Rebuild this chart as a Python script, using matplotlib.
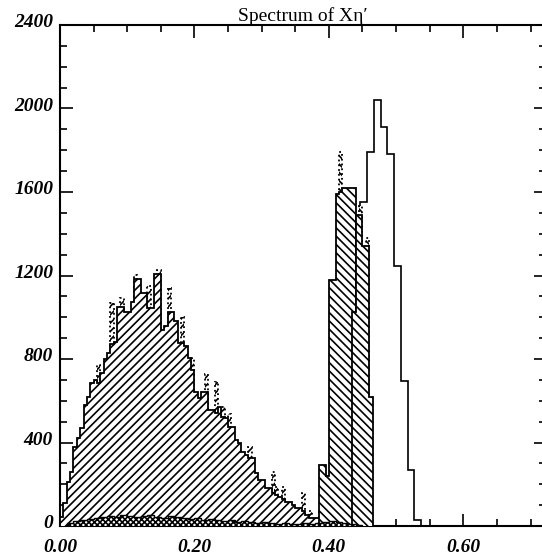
import numpy as np
import matplotlib.pyplot as plt
from matplotlib.ticker import MultipleLocator, FormatStrFormatter
from matplotlib.transforms import ScaledTranslation

BIN = 0.005

# broad component, 0.005 bins starting at 0.0
wide_counts = [
    45, 110, 210, 260, 380, 420, 470, 580, 620, 685,
    700, 685, 733, 800, 830, 870, 880, 1048, 1048, 1027,
    1027, 1075, 1182, 1182, 1115, 1115, 1045, 1045, 1207, 1207,
    939, 960, 1027, 1027, 980, 875, 875, 860, 803, 747,
    643, 612, 643, 643, 555, 555, 540, 571, 523, 516,
    476, 476, 412, 397, 356, 340, 324, 324, 252, 220,
    220, 180, 180, 160, 150, 140, 130, 116, 116, 100,
    85, 85, 70, 53, 40, 37, 37, 37, 37, 30,
    20, 10,
]
# bins where the dotted histogram rises above the broad one
wide_spike_bin = [11, 15, 18, 22, 26, 29, 32, 36, 39, 43,
                  46, 48, 50, 56, 63, 64, 66, 72, 74, 77]
wide_spike_counts = [771, 1070, 1090, 1202, 1150, 1225, 1138, 1000, 803, 728,
                     691, 571, 537, 380, 260, 188, 188, 157, 72, 69]

# first narrow peak, 0.005 bins from 0.385
narrow_start = 0.385
narrow_counts = [290, 290, 240, 1180, 1180, 1590, 1600, 1620, 1620, 1620, 1620]
narrow_spike_bin = [6]
narrow_spike_counts = [1790]

# second narrow peak, 0.005 bins from 0.435
late_start = 0.435
late_counts = [1027, 1490, 1490, 1340, 1340, 620]
late_spike_bin = [2, 4]
late_spike_counts = [1533, 1380]

# open histogram, 0.01 bins from 0.387
open_start = 0.387
open_bin = 0.01
open_counts = [60, 230, 1150, 1400, 1450, 1480, 1550, 1790, 2040, 1910,
               1780, 1245, 696, 270, 30]

# low cross-hatched component, 0.01 bins from 0.01
floor_start = 0.01
floor_bin = 0.01
floor_counts = [15, 25, 30, 35, 40, 45, 50, 45, 55, 50,
                45, 50, 55, 45, 40, 50, 45, 40, 35, 40,
                30, 35, 30, 25, 30, 20, 25, 20, 15, 20,
                15, 10, 15, 10, 10, 15, 10, 15, 20, 25,
                20, 15, 10, 5]

plt.rcParams["hatch.linewidth"] = 1.2

serif = ["Liberation Serif", "DejaVu Serif"]
tick_font = {"family": serif, "weight": "bold", "style": "italic", "size": 14}
wide_hatch = "////"
narrow_hatch = "\\\\\\\\"


def edges(start, width, n):
    return start + width * np.arange(n + 1)


def spikes(ax, start, width, bins, counts, hatch, z):
    lefts = [start + width * b for b in bins]
    ax.bar(lefts, counts, width=width, align="edge", facecolor="white",
           edgecolor="black", hatch=hatch, linestyle=":", linewidth=1.3, zorder=z)


fig = plt.figure(figsize=(5.42, 5.60), dpi=100)
ax = fig.add_axes([60 / 542, 34 / 560, 486 / 542, 501 / 560])

ax.stairs(open_counts, edges(open_start, open_bin, len(open_counts)),
          color="black", linewidth=1.2, zorder=1)

spikes(ax, 0.0, BIN, wide_spike_bin, wide_spike_counts, wide_hatch, 2)
ax.stairs(wide_counts, edges(0.0, BIN, len(wide_counts)), fill=True,
          facecolor="white", edgecolor="black", hatch=wide_hatch, linewidth=1.3, zorder=3)

spikes(ax, narrow_start, BIN, narrow_spike_bin, narrow_spike_counts, narrow_hatch, 4)
ax.stairs(narrow_counts, edges(narrow_start, BIN, len(narrow_counts)), fill=True,
          facecolor="white", edgecolor="black", hatch=narrow_hatch, linewidth=1.3, zorder=5)

spikes(ax, late_start, BIN, late_spike_bin, late_spike_counts, narrow_hatch, 6)
ax.stairs(late_counts, edges(late_start, BIN, len(late_counts)), fill=True,
          facecolor="white", edgecolor="black", hatch=narrow_hatch, linewidth=1.3, zorder=7)

ax.stairs(floor_counts, edges(floor_start, floor_bin, len(floor_counts)), fill=True,
          facecolor="white", edgecolor="black", hatch="xxxxxx", linewidth=1.0, zorder=8)

ax.set_xlim(0, 0.723)
ax.set_ylim(0, 2400)

ax.xaxis.set_major_locator(MultipleLocator(0.2))
ax.xaxis.set_minor_locator(MultipleLocator(0.05))
ax.yaxis.set_major_locator(MultipleLocator(400))
ax.yaxis.set_minor_locator(MultipleLocator(100))
ax.xaxis.set_major_formatter(FormatStrFormatter("%.2f"))
ax.yaxis.set_major_formatter(FormatStrFormatter("%d"))

ax.tick_params(which="both", direction="in", top=True, right=True, width=1.2)
ax.tick_params(which="major", length=9)
ax.tick_params(which="minor", length=5)
ax.tick_params(axis="x", pad=9)
ax.tick_params(axis="y", pad=5)

# y labels sit a little above their ticks
lift = ScaledTranslation(0, 3 / 72, fig.dpi_scale_trans)
for lab in ax.get_yticklabels():
    lab.set(**tick_font)
    lab.set_transform(lab.get_transform() + lift)
for lab in ax.get_xticklabels():
    lab.set(**tick_font)

for sp in ax.spines.values():
    sp.set_linewidth(1.5)

ax.set_title("Spectrum of X\u03b7\u2032", family=serif, fontsize=14, pad=3)

fig.savefig("out.png", dpi=100)
